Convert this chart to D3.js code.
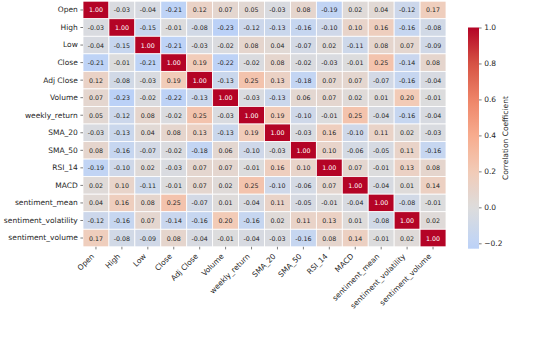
<!DOCTYPE html>
<html>
<head>
<meta charset="utf-8">
<script src="https://cdn.jsdelivr.net/npm/d3@7"></script>
<style>
  html, body { margin: 0; padding: 0; background: #fff; }
  svg { display: block; font-family: "DejaVu Sans", sans-serif; }
</style>
</head>
<body>
<svg id="chart" width="543" height="345"></svg>
<script>
// Feature names (rows and columns of the matrix)
const features = ["Open", "High", "Low", "Close", "Adj Close", "Volume", "weekly_return",
  "SMA_20", "SMA_50", "RSI_14", "MACD", "sentiment_mean", "sentiment_volatility", "sentiment_volume"];

// Pairwise correlation coefficients, one row per feature
const rowOpen        = [1.00, -0.03, -0.04, -0.21, 0.12, 0.07, 0.05, -0.03, 0.08, -0.19, 0.02, 0.04, -0.12, 0.17];
const rowHigh        = [-0.03, 1.00, -0.15, -0.01, -0.08, -0.23, -0.12, -0.13, -0.16, -0.10, 0.10, 0.16, -0.16, -0.08];
const rowLow         = [-0.04, -0.15, 1.00, -0.21, -0.03, -0.02, 0.08, 0.04, -0.07, 0.02, -0.11, 0.08, 0.07, -0.09];
const rowClose       = [-0.21, -0.01, -0.21, 1.00, 0.19, -0.22, -0.02, 0.08, -0.02, -0.03, -0.01, 0.25, -0.14, 0.08];
const rowAdjClose    = [0.12, -0.08, -0.03, 0.19, 1.00, -0.13, 0.25, 0.13, -0.18, 0.07, 0.07, -0.07, -0.16, -0.04];
const rowVolume      = [0.07, -0.23, -0.02, -0.22, -0.13, 1.00, -0.03, -0.13, 0.06, 0.07, 0.02, 0.01, 0.20, -0.01];
const rowWeekly      = [0.05, -0.12, 0.08, -0.02, 0.25, -0.03, 1.00, 0.19, -0.10, -0.01, 0.25, -0.04, -0.16, -0.04];
const rowSMA20       = [-0.03, -0.13, 0.04, 0.08, 0.13, -0.13, 0.19, 1.00, -0.03, 0.16, -0.10, 0.11, 0.02, -0.03];
const rowSMA50       = [0.08, -0.16, -0.07, -0.02, -0.18, 0.06, -0.10, -0.03, 1.00, 0.10, -0.06, -0.05, 0.11, -0.16];
const rowRSI14       = [-0.19, -0.10, 0.02, -0.03, 0.07, 0.07, -0.01, 0.16, 0.10, 1.00, 0.07, -0.01, 0.13, 0.08];
const rowMACD        = [0.02, 0.10, -0.11, -0.01, 0.07, 0.02, 0.25, -0.10, -0.06, 0.07, 1.00, -0.04, 0.01, 0.14];
const rowSentMean    = [0.04, 0.16, 0.08, 0.25, -0.07, 0.01, -0.04, 0.11, -0.05, -0.01, -0.04, 1.00, -0.08, -0.01];
const rowSentVol     = [-0.12, -0.16, 0.07, -0.14, -0.16, 0.20, -0.16, 0.02, 0.11, 0.13, 0.01, -0.08, 1.00, 0.02];
const rowSentVolume  = [0.17, -0.08, -0.09, 0.08, -0.04, -0.01, -0.04, -0.03, -0.16, 0.08, 0.14, -0.01, 0.02, 1.00];

const matrix = [rowOpen, rowHigh, rowLow, rowClose, rowAdjClose, rowVolume, rowWeekly,
  rowSMA20, rowSMA50, rowRSI14, rowMACD, rowSentMean, rowSentVol, rowSentVolume];

// Colour bar tick values and title
const barTicks = [-0.2, 0.0, 0.2, 0.4, 0.6, 0.8, 1.0];
const barTitle = "Correlation Coefficient";

// Diverging "coolwarm" palette sampled at 11 evenly spaced stops
const coolwarmStops = ["#3b4cc0", "#5977e3", "#7b9ff9", "#9ebeff", "#c0d4f5", "#dddcdc",
  "#f2cbb7", "#f7ac8e", "#ee8468", "#d65244", "#b40426"];
const coolwarm = d3.scaleLinear()
  .domain(d3.range(11).map(i => -1 + i * 0.2))
  .range(coolwarmStops)
  .interpolate(d3.interpolateRgb)
  .clamp(true);

const flat = matrix.flat();
const vmin = d3.min(flat), vmax = d3.max(flat);

const svg = d3.select("#chart");
const textColor = "#262626";
const fontSize = 7.5;

// Heatmap area
const gridLeft = 83, gridRight = 446, gridTop = 1.2, gridBottom = 246.8;
const x = d3.scaleBand().domain(features).range([gridLeft, gridRight]);
const y = d3.scaleBand().domain(features).range([gridTop, gridBottom]);

const cells = [];
matrix.forEach((row, i) => row.forEach((v, j) => cells.push({ r: features[i], c: features[j], v })));

svg.append("g").selectAll("rect").data(cells).join("rect")
  .attr("x", d => x(d.c))
  .attr("y", d => y(d.r))
  .attr("width", x.bandwidth())
  .attr("height", y.bandwidth())
  .attr("fill", d => coolwarm(d.v))
  .attr("stroke", "#fff")
  .attr("stroke-width", 0.8);

// Luminance-based annotation colour
function luminance(c) {
  const rgb = d3.rgb(c);
  const lin = [rgb.r, rgb.g, rgb.b].map(u => {
    u /= 255;
    return u <= 0.03928 ? u / 12.92 : Math.pow((u + 0.055) / 1.055, 2.4);
  });
  return 0.2126 * lin[0] + 0.7152 * lin[1] + 0.0722 * lin[2];
}

svg.append("g").selectAll("text").data(cells).join("text")
  .attr("x", d => x(d.c) + x.bandwidth() / 2)
  .attr("y", d => y(d.r) + y.bandwidth() / 2)
  .attr("text-anchor", "middle")
  .attr("dominant-baseline", "central")
  .attr("font-size", 6.3)
  .attr("fill", d => luminance(coolwarm(d.v)) > 0.408 ? textColor : "#ffffff")
  .text(d => d.v.toFixed(2));

// Row labels
const yAxis = svg.append("g")
  .attr("transform", `translate(${gridLeft},0)`)
  .call(d3.axisLeft(y).tickSize(2.6).tickPadding(2.6));
yAxis.select(".domain").remove();
yAxis.selectAll("line").attr("stroke", textColor).attr("stroke-width", 0.6);
yAxis.selectAll("text").attr("font-size", fontSize).attr("fill", textColor)
  .attr("font-family", "DejaVu Sans");

// Column labels, rotated 45 degrees
const xAxis = svg.append("g")
  .attr("transform", `translate(0,${gridBottom})`)
  .call(d3.axisBottom(x).tickSize(2.6).tickPadding(2.6));
xAxis.select(".domain").remove();
xAxis.selectAll("line").attr("stroke", textColor).attr("stroke-width", 0.6);
xAxis.selectAll("text")
  .attr("font-size", fontSize).attr("fill", textColor)
  .attr("font-family", "DejaVu Sans")
  .attr("text-anchor", "end")
  .attr("dominant-baseline", "central")
  .attr("dy", null)
  .attr("y", 0)
  .attr("x", 0)
  .attr("transform", "translate(-3,8.2) rotate(-45)");

// Colour bar
const barX = 468, barW = 11;
const cbar = d3.scaleLinear().domain([vmin, vmax]).range([248.7, 27.5]);
const defs = svg.append("defs");
const grad = defs.append("linearGradient")
  .attr("id", "cbarGrad").attr("x1", 0).attr("x2", 0).attr("y1", 1).attr("y2", 0);
d3.range(0, 1.0001, 0.02).forEach(t => {
  const v = vmin + t * (vmax - vmin);
  grad.append("stop").attr("offset", t).attr("stop-color", coolwarm(v));
});
svg.append("rect")
  .attr("x", barX).attr("y", cbar(vmax))
  .attr("width", barW).attr("height", cbar(vmin) - cbar(vmax))
  .attr("fill", "url(#cbarGrad)");

const cAxis = svg.append("g")
  .attr("transform", `translate(${barX + barW},0)`)
  .call(d3.axisRight(cbar).tickValues(barTicks).tickFormat(d3.format(".1f"))
    .tickSize(2.6).tickPadding(2.6));
cAxis.select(".domain").remove();
cAxis.selectAll("line").attr("stroke", textColor).attr("stroke-width", 0.6);
cAxis.selectAll("text").attr("font-size", fontSize).attr("fill", textColor)
  .attr("font-family", "DejaVu Sans");

svg.append("text")
  .attr("transform", `translate(505,${(cbar(vmin) + cbar(vmax)) / 2}) rotate(-90)`)
  .attr("text-anchor", "middle")
  .attr("dominant-baseline", "central")
  .attr("font-size", fontSize)
  .attr("fill", textColor)
  .text(barTitle);
</script>
</body>
</html>
